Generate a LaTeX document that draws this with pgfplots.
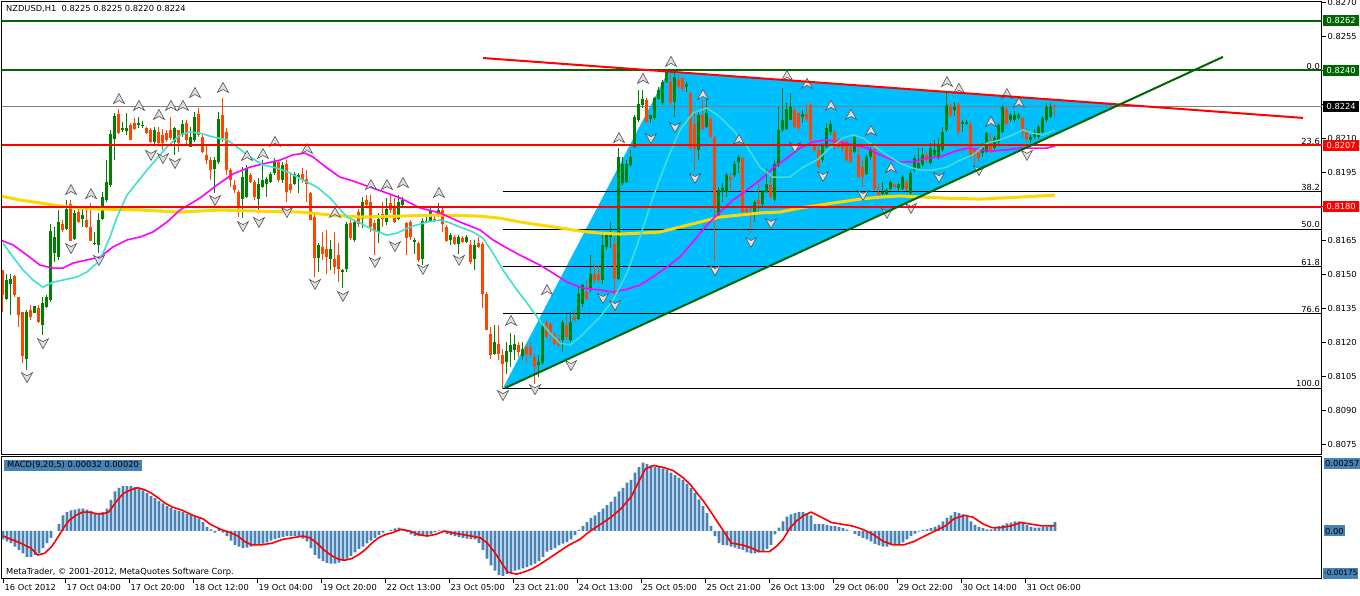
\documentclass[border=0pt]{standalone}
\usepackage{fontspec}
\setmainfont{DejaVu Sans}
\usepackage{pgfplots}
\usepackage{pgfplotstable}
\pgfplotsset{compat=1.18}

\definecolor{bull}{RGB}{0,128,0}
\definecolor{bear}{RGB}{255,69,0}
\definecolor{dkgreen}{RGB}{0,100,0}
\definecolor{skyblue}{RGB}{0,191,255}
\definecolor{turq}{RGB}{64,224,208}
\definecolor{mag}{RGB}{255,0,255}
\definecolor{gold}{RGB}{255,215,0}
\definecolor{steel}{RGB}{70,130,180}

\newcommand\mt{\fontsize{8.3}{10}\selectfont}

% fractal arrows
\pgfdeclareplotmark{fup}{%
  \pgfpathmoveto{\pgfqpoint{0pt}{5.5pt}}%
  \pgfpathlineto{\pgfqpoint{5.5pt}{-4.5pt}}%
  \pgfpathlineto{\pgfqpoint{0pt}{-1.5pt}}%
  \pgfpathlineto{\pgfqpoint{-5.5pt}{-4.5pt}}%
  \pgfpathclose\pgfusepathqfillstroke}
\pgfdeclareplotmark{fdn}{%
  \pgfpathmoveto{\pgfqpoint{0pt}{-5.5pt}}%
  \pgfpathlineto{\pgfqpoint{5.5pt}{4.5pt}}%
  \pgfpathlineto{\pgfqpoint{0pt}{1.5pt}}%
  \pgfpathlineto{\pgfqpoint{-5.5pt}{4.5pt}}%
  \pgfpathclose\pgfusepathqfillstroke}

% NZDUSD H1 bars: index, open, high, low, close
\pgfplotstableread{
i o h l c
0 0.81520 0.81520 0.81336 0.81410
1 0.81395 0.81505 0.81388 0.81476
2 0.81458 0.81505 0.81322 0.81480
3 0.81494 0.81498 0.81403 0.81410
4 0.81403 0.81403 0.81270 0.81322
5 0.81336 0.81336 0.81109 0.81141
6 0.81130 0.81344 0.81079 0.81336
7 0.81344 0.81366 0.81300 0.81314
8 0.81332 0.81364 0.81329 0.81361
9 0.81354 0.81366 0.81285 0.81292
10 0.81278 0.81403 0.81233 0.81376
11 0.81358 0.81410 0.81351 0.81403
12 0.81388 0.81723 0.81380 0.81692
13 0.81594 0.81711 0.81557 0.81667
14 0.81579 0.81785 0.81564 0.81733
15 0.81726 0.81741 0.81689 0.81697
16 0.81704 0.81829 0.81697 0.81792
17 0.81811 0.81829 0.81652 0.81652
18 0.81660 0.81785 0.81652 0.81773
19 0.81777 0.81792 0.81726 0.81733
20 0.81748 0.81800 0.81711 0.81763
21 0.81741 0.81792 0.81704 0.81711
22 0.81711 0.81814 0.81652 0.81652
23 0.81638 0.81689 0.81630 0.81641
24 0.81630 0.81770 0.81594 0.81741
25 0.81748 0.81866 0.81741 0.81844
26 0.81829 0.82005 0.81821 0.81910
27 0.81895 0.82138 0.81888 0.82123
28 0.82101 0.82211 0.82005 0.82199
29 0.82208 0.82229 0.82123 0.82126
30 0.82138 0.82174 0.82130 0.82145
31 0.82135 0.82211 0.82115 0.82148
32 0.82160 0.82167 0.82093 0.82096
33 0.82170 0.82189 0.82138 0.82145
34 0.82165 0.82196 0.82145 0.82168
35 0.82158 0.82179 0.82145 0.82161
36 0.82145 0.82152 0.82123 0.82126
37 0.82138 0.82145 0.82079 0.82086
38 0.82086 0.82152 0.82071 0.82138
39 0.82130 0.82152 0.82071 0.82079
40 0.82115 0.82140 0.82049 0.82079
41 0.82123 0.82138 0.82086 0.82093
42 0.82138 0.82196 0.82093 0.82105
43 0.82086 0.82152 0.82027 0.82145
44 0.82138 0.82138 0.82042 0.82079
45 0.82115 0.82182 0.82108 0.82167
46 0.82170 0.82182 0.82071 0.82093
47 0.82064 0.82152 0.82064 0.82108
48 0.82093 0.82218 0.82086 0.82196
49 0.82211 0.82233 0.82108 0.82115
50 0.82108 0.82115 0.82035 0.82042
51 0.82027 0.82071 0.81990 0.82005
52 0.82005 0.82020 0.81917 0.81961
53 0.81968 0.82020 0.81858 0.82005
54 0.81998 0.82218 0.81990 0.82189
55 0.82204 0.82279 0.82085 0.82102
56 0.82130 0.82145 0.81940 0.81961
57 0.81961 0.81968 0.81888 0.81917
58 0.81895 0.81917 0.81858 0.81873
59 0.81866 0.81873 0.81755 0.81799
60 0.81836 0.81976 0.81748 0.81932
61 0.81844 0.81983 0.81836 0.81968
62 0.81939 0.81946 0.81902 0.81910
63 0.81910 0.81917 0.81829 0.81844
64 0.81836 0.81924 0.81770 0.81902
65 0.81888 0.82005 0.81880 0.81917
66 0.81902 0.81932 0.81844 0.81924
67 0.81910 0.81954 0.81902 0.81946
68 0.81946 0.82013 0.81939 0.81998
69 0.81998 0.82005 0.81910 0.81917
70 0.81917 0.81998 0.81902 0.81983
71 0.81990 0.82005 0.81821 0.81866
72 0.81902 0.81946 0.81858 0.81873
73 0.81902 0.81954 0.81895 0.81946
74 0.81932 0.81946 0.81858 0.81939
75 0.81946 0.81968 0.81902 0.81917
76 0.81924 0.81961 0.81821 0.81902
77 0.81858 0.81866 0.81741 0.81741
78 0.81755 0.81770 0.81491 0.81572
79 0.81572 0.81638 0.81513 0.81630
80 0.81623 0.81689 0.81564 0.81594
81 0.81616 0.81697 0.81505 0.81579
82 0.81572 0.81652 0.81520 0.81616
83 0.81572 0.81689 0.81505 0.81535
84 0.81586 0.81638 0.81469 0.81527
85 0.81513 0.81527 0.81439 0.81520
86 0.81527 0.81733 0.81513 0.81726
87 0.81726 0.81741 0.81652 0.81660
88 0.81652 0.81741 0.81645 0.81733
89 0.81777 0.81790 0.81710 0.81726
90 0.81748 0.81843 0.81704 0.81821
91 0.81829 0.81851 0.81799 0.81807
92 0.81821 0.81851 0.81689 0.81711
93 0.81726 0.81741 0.81586 0.81696
94 0.81689 0.81770 0.81638 0.81748
95 0.81770 0.81821 0.81711 0.81748
96 0.81733 0.81836 0.81718 0.81792
97 0.81814 0.81851 0.81770 0.81785
98 0.81799 0.81836 0.81726 0.81733
99 0.81748 0.81851 0.81741 0.81821
100 0.81807 0.81843 0.81799 0.81829
101 0.81726 0.81733 0.81586 0.81660
102 0.81733 0.81741 0.81652 0.81667
103 0.81645 0.81660 0.81593 0.81652
104 0.81638 0.81645 0.81557 0.81564
105 0.81571 0.81748 0.81542 0.81740
106 0.81733 0.81755 0.81726 0.81740
107 0.81740 0.81792 0.81733 0.81785
108 0.81748 0.81763 0.81733 0.81740
109 0.81762 0.81814 0.81755 0.81785
110 0.81785 0.81792 0.81689 0.81726
111 0.81711 0.81718 0.81645 0.81652
112 0.81652 0.81682 0.81630 0.81674
113 0.81667 0.81674 0.81630 0.81638
114 0.81638 0.81674 0.81593 0.81667
115 0.81664 0.81670 0.81638 0.81645
116 0.81645 0.81674 0.81638 0.81667
117 0.81630 0.81652 0.81549 0.81557
118 0.81571 0.81652 0.81520 0.81630
119 0.81638 0.81667 0.81616 0.81623
120 0.81638 0.81645 0.81351 0.81417
121 0.81417 0.81424 0.81255 0.81255
122 0.81241 0.81270 0.81130 0.81145
123 0.81152 0.81277 0.81145 0.81204
124 0.81197 0.81277 0.81123 0.81152
125 0.81145 0.81174 0.80998 0.81108
126 0.81116 0.81204 0.81064 0.81167
127 0.81160 0.81241 0.81094 0.81189
128 0.81167 0.81233 0.81123 0.81197
129 0.81189 0.81204 0.81138 0.81160
130 0.81145 0.81204 0.81123 0.81174
131 0.81182 0.81189 0.81108 0.81152
132 0.81182 0.81204 0.81138 0.81145
133 0.81138 0.81152 0.81020 0.81094
134 0.81101 0.81145 0.81049 0.81116
135 0.81109 0.81290 0.81101 0.81270
136 0.81292 0.81299 0.81219 0.81226
137 0.81285 0.81292 0.81212 0.81241
138 0.81241 0.81248 0.81189 0.81197
139 0.81219 0.81233 0.81182 0.81190
140 0.81212 0.81300 0.81160 0.81292
141 0.81278 0.81322 0.81212 0.81226
142 0.81212 0.81336 0.81204 0.81292
143 0.81314 0.81344 0.81292 0.81300
144 0.81307 0.81447 0.81299 0.81417
145 0.81373 0.81461 0.81359 0.81454
146 0.81425 0.81476 0.81388 0.81395
147 0.81432 0.81586 0.81425 0.81505
148 0.81505 0.81549 0.81461 0.81476
149 0.81505 0.81542 0.81469 0.81476
150 0.81476 0.81689 0.81461 0.81630
151 0.81623 0.81689 0.81608 0.81674
152 0.81667 0.81733 0.81616 0.81690
153 0.81637 0.81667 0.81403 0.81483
154 0.81483 0.82057 0.81476 0.82020
155 0.81902 0.82020 0.81895 0.81990
156 0.81910 0.82005 0.81902 0.81990
157 0.81983 0.82049 0.81976 0.82020
158 0.82064 0.82203 0.82057 0.82196
159 0.82182 0.82314 0.82174 0.82255
160 0.82248 0.82314 0.82233 0.82277
161 0.82270 0.82277 0.82167 0.82174
162 0.82189 0.82203 0.82167 0.82203
163 0.82189 0.82284 0.82182 0.82277
164 0.82277 0.82329 0.82270 0.82314
165 0.82255 0.82358 0.82248 0.82351
166 0.82351 0.82402 0.82343 0.82395
167 0.82351 0.82388 0.82248 0.82255
168 0.82263 0.82388 0.82196 0.82373
169 0.82358 0.82380 0.82321 0.82329
170 0.82366 0.82373 0.82307 0.82321
171 0.82329 0.82351 0.82307 0.82343
172 0.82299 0.82307 0.82049 0.82057
173 0.82167 0.82226 0.81961 0.82057
174 0.82049 0.82226 0.82005 0.82203
175 0.82203 0.82270 0.82138 0.82145
176 0.82152 0.82284 0.82145 0.82211
177 0.82189 0.82196 0.82101 0.82108
178 0.82101 0.82115 0.81557 0.81800
179 0.81763 0.81888 0.81740 0.81873
180 0.81866 0.81903 0.81822 0.81880
181 0.81866 0.81950 0.81844 0.81939
182 0.81932 0.81946 0.81873 0.81917
183 0.81939 0.82000 0.81930 0.81991
184 0.81998 0.82027 0.81946 0.82020
185 0.82013 0.82020 0.81770 0.81778
186 0.81792 0.81800 0.81770 0.81778
187 0.81778 0.81800 0.81682 0.81763
188 0.81770 0.81829 0.81733 0.81822
189 0.81829 0.81903 0.81778 0.81814
190 0.81814 0.81873 0.81800 0.81866
191 0.81866 0.81969 0.81858 0.81900
192 0.81895 0.81939 0.81836 0.81844
193 0.81829 0.82005 0.81822 0.81991
194 0.81983 0.82241 0.81976 0.82138
195 0.82138 0.82321 0.82130 0.82182
196 0.82145 0.82255 0.82138 0.82233
197 0.82182 0.82299 0.82182 0.82241
198 0.82226 0.82233 0.82145 0.82152
199 0.82211 0.82211 0.82130 0.82145
200 0.82196 0.82226 0.82167 0.82211
201 0.82211 0.82255 0.82174 0.82189
202 0.82248 0.82255 0.82086 0.82094
203 0.82072 0.82094 0.82042 0.82050
204 0.82050 0.82064 0.81969 0.81976
205 0.82005 0.82080 0.81998 0.82072
206 0.82064 0.82167 0.82057 0.82145
207 0.82130 0.82182 0.82116 0.82167
208 0.82130 0.82138 0.82050 0.82064
209 0.82094 0.82101 0.82057 0.82064
210 0.82086 0.82100 0.82040 0.82057
211 0.82086 0.82094 0.81998 0.82005
212 0.82064 0.82072 0.81991 0.81998
213 0.82042 0.82116 0.82035 0.82108
214 0.82027 0.82070 0.81924 0.81932
215 0.81976 0.82005 0.81888 0.81932
216 0.81946 0.82027 0.81939 0.82020
217 0.82020 0.82064 0.82005 0.82057
218 0.82057 0.82064 0.81873 0.81880
219 0.81866 0.81903 0.81844 0.81851
220 0.81858 0.81910 0.81851 0.81866
221 0.81858 0.81880 0.81850 0.81873
222 0.81880 0.81917 0.81873 0.81910
223 0.81900 0.81903 0.81880 0.81888
224 0.81880 0.81903 0.81870 0.81900
225 0.81880 0.81939 0.81873 0.81932
226 0.81910 0.81917 0.81870 0.81880
227 0.81858 0.81961 0.81851 0.81946
228 0.81961 0.82027 0.81954 0.82013
229 0.81969 0.82057 0.81961 0.81991
230 0.81983 0.82057 0.81976 0.82035
231 0.82027 0.82042 0.81991 0.82005
232 0.81991 0.82079 0.81983 0.82057
233 0.82027 0.82094 0.82020 0.82049
234 0.82013 0.82101 0.82005 0.82072
235 0.82050 0.82152 0.82042 0.82130
236 0.82138 0.82299 0.82130 0.82248
237 0.82241 0.82255 0.82196 0.82204
238 0.82226 0.82260 0.82200 0.82241
239 0.82248 0.82263 0.82116 0.82130
240 0.82167 0.82182 0.82130 0.82174
241 0.82168 0.82180 0.82160 0.82174
242 0.82167 0.82174 0.82013 0.82020
243 0.82050 0.82060 0.81990 0.82027
244 0.82050 0.82057 0.81998 0.82013
245 0.82035 0.82080 0.82020 0.82072
246 0.82042 0.82130 0.82035 0.82123
247 0.82086 0.82123 0.82035 0.82042
248 0.82057 0.82110 0.82049 0.82101
249 0.82086 0.82170 0.82070 0.82160
250 0.82130 0.82248 0.82123 0.82241
251 0.82233 0.82241 0.82160 0.82167
252 0.82182 0.82211 0.82174 0.82204
253 0.82182 0.82220 0.82174 0.82204
254 0.82189 0.82211 0.82180 0.82204
255 0.82189 0.82196 0.82101 0.82130
256 0.82138 0.82145 0.82086 0.82101
257 0.82094 0.82116 0.82079 0.82108
258 0.82108 0.82140 0.82100 0.82130
259 0.82108 0.82160 0.82100 0.82152
260 0.82130 0.82200 0.82123 0.82189
261 0.82182 0.82255 0.82174 0.82241
262 0.82196 0.82255 0.82189 0.82241
263 0.82250 0.82250 0.82200 0.82240
}\candles

\pgfplotsset{nomark/.style={only marks, mark=*, mark size=0pt, mark options={draw=none, fill=none}}}

\begin{document}
\begin{tikzpicture}
\path[use as bounding box, fill=white] (0,0) rectangle (1360pt,596pt);

% ---------------- price panel ----------------
\begin{axis}[
  at={(2pt,141pt)}, anchor=south west, scale only axis,
  width=1320pt, height=453pt,
  xmin=-0.25, xmax=329.75, ymin=0.80705, ymax=0.82702,
  axis line style={black, line width=1pt},
  xtick=\empty,
  ytick={0.8075,0.8090,0.8105,0.8120,0.8135,0.8150,0.8165,0.8180,0.8195,0.8210,0.8225,0.8240,0.8255,0.8270},
  yticklabels={0.8075,0.8090,0.8105,0.8120,0.8135,0.8150,0.8165,0.8180,0.8195,0.8210,0.8225,0.8240,0.8255,0.8270},
  ytick pos=right, yticklabel pos=right,
  tick align=outside, major tick length=4pt,
  tick style={black, line width=0.8pt},
  yticklabel style={font=\mt, inner sep=1.5pt},
  clip mode=individual,
]
% triangle object
\addplot[fill=skyblue, draw=none, forget plot] coordinates {(125,0.81000) (166.25,0.82393) (279,0.82250) (125,0.81000)};

% fibo levels
\addplot[black, line width=0.8pt] coordinates {(125,0.81865) (331,0.81865)};
\addplot[black, line width=0.8pt] coordinates {(125,0.81700) (331,0.81700)};
\addplot[black, line width=0.8pt] coordinates {(125,0.81535) (331,0.81535)};
\addplot[black, line width=0.8pt] coordinates {(125,0.81328) (331,0.81328)};
\addplot[black, line width=0.8pt] coordinates {(125,0.81000) (331,0.81000)};

% bid line
\addplot[gray, line width=0.8pt] coordinates {(-1,0.8224) (331,0.8224)};

% candles: wicks
\addplot[nomark, restrict expr to domain={\thisrow{c}-\thisrow{o}}{0:1},
  error bars/.cd, y dir=both, y explicit, error mark=none,
  error bar style={draw=bull, line width=1pt}]
  table[x=i, y=c, y error plus expr=\thisrow{h}-\thisrow{c}, y error minus expr=\thisrow{c}-\thisrow{l}] {\candles};
\addplot[nomark, restrict expr to domain={\thisrow{c}-\thisrow{o}}{-1:-0.000001},
  error bars/.cd, y dir=both, y explicit, error mark=none,
  error bar style={draw=bear, line width=1pt}]
  table[x=i, y=c, y error plus expr=\thisrow{h}-\thisrow{c}, y error minus expr=\thisrow{c}-\thisrow{l}] {\candles};
% candles: bodies
\addplot[nomark, restrict expr to domain={\thisrow{c}-\thisrow{o}}{0:1},
  error bars/.cd, y dir=both, y explicit, error mark=none,
  error bar style={draw=bull, line width=3pt}]
  table[x=i, y expr=(\thisrow{o}+\thisrow{c})/2, y error expr={max(abs(\thisrow{c}-\thisrow{o})/2,0.000012)}] {\candles};
\addplot[nomark, restrict expr to domain={\thisrow{c}-\thisrow{o}}{-1:-0.000001},
  error bars/.cd, y dir=both, y explicit, error mark=none,
  error bar style={draw=bear, line width=3pt}]
  table[x=i, y expr=(\thisrow{o}+\thisrow{c})/2, y error expr={max(abs(\thisrow{c}-\thisrow{o})/2,0.000012)}] {\candles};

% moving averages
\addplot[gold, line width=3pt] coordinates {
(-0.75,0.81847) (4.25,0.81829) (9.25,0.81816) (14.25,0.81803) (19.25,0.81794) (24.25,0.81789)
(34.25,0.81785) (44.25,0.81776) (54.25,0.81785) (64.25,0.81780) (74.25,0.81776) (81.75,0.81763)
(89.25,0.81754) (99.25,0.81758) (109.25,0.81763) (119.25,0.81758) (124.25,0.81749) (129.25,0.81732)
(134.25,0.81719) (139.25,0.81706) (144.25,0.81692) (149.25,0.81683) (154.25,0.81679) (159.25,0.81683)
(164.25,0.81688) (169.25,0.81710) (174.25,0.81732) (179.25,0.81754) (184.25,0.81763) (189.25,0.81772)
(194.25,0.81776) (199.25,0.81794) (204.25,0.81807) (209.25,0.81820) (214.25,0.81833) (219.25,0.81842)
(224.25,0.81847) (234.25,0.81838) (244.25,0.81833) (254.25,0.81842) (263,0.81851)};
\addplot[mag, line width=1.6pt] coordinates {
(-0.75,0.81653) (2.5,0.81631) (6,0.81586) (9.25,0.81542) (12.5,0.81529) (15,0.81529) (17.5,0.81551)
(21,0.81565) (24.25,0.81578) (27.5,0.81622) (31,0.81653) (34.25,0.81666) (37.5,0.81688) (41,0.81732)
(44.25,0.81785) (49.25,0.81838) (53.5,0.81895) (57.5,0.81944) (61.75,0.81974) (66,0.81992)
(69.25,0.82005) (72.5,0.82028) (75.5,0.82036) (77.5,0.82019) (81,0.81970) (84.25,0.81930)
(87.5,0.81913) (91.75,0.81886) (96.75,0.81855) (99.25,0.81838) (104.25,0.81794) (109.25,0.81772)
(114.25,0.81732) (119.25,0.81697) (122.5,0.81653) (126,0.81617) (129.25,0.81586) (134.25,0.81542)
(137.5,0.81507) (141,0.81467) (145,0.81441) (149.25,0.81432) (152.5,0.81423) (156,0.81436)
(159.25,0.81454) (162.5,0.81490) (166,0.81534) (169.25,0.81578) (172.5,0.81644) (176,0.81719)
(179.25,0.81776) (182.5,0.81829) (186,0.81873) (189.25,0.81917) (192.5,0.81970) (196,0.82014)
(199.25,0.82058) (202.5,0.82085) (206,0.82094) (209.25,0.82085) (212.5,0.82072) (216,0.82058)
(219.25,0.82028) (222.5,0.82005) (224.25,0.81997) (227.5,0.81997) (231,0.82014) (234.25,0.82019)
(237.5,0.82041) (241,0.82058) (244.25,0.82050) (247.5,0.82045) (251,0.82050) (254.25,0.82058)
(257.5,0.82058) (261,0.82058) (263,0.82067)};
\addplot[turq, line width=1.6pt] coordinates {
(0,0.81639) (2.5,0.81578) (5,0.81520) (7.5,0.81476) (10,0.81445) (12.5,0.81467) (15,0.81476)
(18.5,0.81490) (21,0.81512) (23.5,0.81551) (25,0.81595) (26.75,0.81666) (28.5,0.81754) (31,0.81851)
(36,0.81961) (41,0.82063) (44.25,0.82116) (46.75,0.82129) (49.25,0.82124) (52.5,0.82107) (56,0.82094)
(58.5,0.82063) (61.75,0.82019) (65,0.81983) (68.5,0.81970) (71.75,0.81948) (75,0.81917) (78.5,0.81886)
(81.75,0.81838) (86,0.81754) (89.25,0.81728) (92.5,0.81697) (96,0.81674) (98.5,0.81683) (101.75,0.81710)
(106,0.81732) (109.25,0.81741) (111.75,0.81728) (114.25,0.81710) (117.5,0.81688) (120,0.81661)
(122.5,0.81595) (125,0.81520) (128.5,0.81432) (131,0.81375) (134.25,0.81296) (136.75,0.81243)
(139.25,0.81198) (141.75,0.81190) (144.25,0.81225) (146.75,0.81269) (149.25,0.81313) (152.5,0.81388)
(156,0.81507) (159.25,0.81666) (162.5,0.81842) (166,0.82005) (169.25,0.82138) (172.5,0.82213)
(176,0.82235) (179.25,0.82195) (182.5,0.82138) (186,0.82063) (189.25,0.81974) (192.5,0.81930)
(196.75,0.81930) (200,0.81974) (203.5,0.82005) (206.75,0.82058) (210,0.82102) (212.5,0.82116)
(215,0.82102) (218.5,0.82058) (221.75,0.82019) (224.25,0.81992) (226.75,0.81974) (229.25,0.81961)
(232.5,0.81961) (236,0.81974) (239.25,0.82005) (242.5,0.82028) (246,0.82080) (249.25,0.82094)
(252.5,0.82116) (255,0.82138) (257.5,0.82124) (260,0.82116) (263,0.82138)};

% fractals
\addplot[only marks, mark=fup, mark options={fill=gray!25, draw=gray!65!black, line width=0.6pt}] coordinates {
(29,0.82274) (34,0.82244) (39,0.82204) (42,0.82244) (45,0.82244) (48,0.82301) (55,0.82323) (61,0.82023)
(65,0.82032) (68,0.82085) (76,0.82054) (92,0.81895) (96,0.81895) (100,0.81904) (109,0.81860) (17,0.81873)
(22,0.81855) (83,0.81772) (127,0.81296) (136,0.81432) (154,0.82102) (160,0.82363) (167,0.82438)
(175,0.82292) (184,0.82094) (196,0.82376) (201,0.82341) (207,0.82244) (212,0.82204) (217,0.82133)
(222,0.81970) (236,0.82349) (239,0.82319) (247,0.82173) (251,0.82296) (254,0.82257)};
\addplot[only marks, mark=fdn, mark options={fill=gray!25, draw=gray!65!black, line width=0.6pt}] coordinates {
(6,0.81048) (10,0.81198) (17,0.81617) (24,0.81565) (37,0.82028) (40,0.82014) (43,0.81992) (53,0.81829)
(60,0.81714) (64,0.81732) (71,0.81776) (78,0.81459) (85,0.81406) (93,0.81556) (98,0.81626) (105,0.81525)
(114,0.81565) (125,0.80969) (133,0.80995) (142,0.81101) (150,0.81397) (153,0.81366) (162,0.82102)
(168,0.82151) (173,0.81926) (178,0.81520) (187,0.81644) (192,0.81728) (198,0.82063) (205,0.81935)
(215,0.81851) (221,0.81772) (227,0.81794) (234,0.81930) (244,0.81961) (256,0.82028)};

% horizontal lines
\addplot[dkgreen, line width=2pt] coordinates {(-1,0.8262) (331,0.8262)};
\addplot[dkgreen, line width=2pt] coordinates {(-1,0.8240) (331,0.8240)};
\addplot[red, line width=2pt] coordinates {(-1,0.8207) (331,0.8207)};
\addplot[red, line width=2pt] coordinates {(-1,0.8180) (331,0.8180)};

% trend lines
\addplot[red, line width=2pt] coordinates {(120,0.82455) (325,0.82191)};
\addplot[dkgreen, line width=2pt] coordinates {(125.5,0.81000) (305,0.82460)};

% fibo labels
\foreach \lv/\tx in {0.8240/0.0, 0.8207/23.6, 0.81865/38.2, 0.8170/50.0, 0.81535/61.8, 0.81328/76.6, 0.8100/100.0}{
  \edef\temp{\noexpand\node[font=\noexpand\mt, anchor=south east, inner sep=1pt] at (axis cs:329.5,\lv) {\tx};}
  \temp
}
\node[font=\mt, anchor=north west, inner sep=1pt] at (rel axis cs:0,1) [xshift=3pt, yshift=-2pt] {NZDUSD,H1\ \ 0.8225 0.8225 0.8220 0.8224};

\coordinate (q8262) at (axis cs:329.75,0.8262);
\coordinate (q8240) at (axis cs:329.75,0.8240);
\coordinate (q8224) at (axis cs:329.75,0.8224);
\coordinate (q8207) at (axis cs:329.75,0.8207);
\coordinate (q8180) at (axis cs:329.75,0.8180);
\end{axis}

% price tags
\tikzset{tag/.style={font=\mt, anchor=west, inner xsep=1pt, inner ysep=0pt, minimum height=11pt, minimum width=36pt, text=white}}
\node[tag, fill=dkgreen] at ([xshift=1pt]q8262) {0.8262};
\node[tag, fill=dkgreen] at ([xshift=1pt]q8240) {0.8240};
\node[tag, fill=black]   at ([xshift=1pt]q8224) {0.8224};
\node[tag, fill=red]     at ([xshift=1pt]q8207) {0.8207};
\node[tag, fill=red]     at ([xshift=1pt]q8180) {0.8180};

% ---------------- MACD panel ----------------
\begin{axis}[
  at={(2pt,17pt)}, anchor=south west, scale only axis,
  width=1320pt, height=122pt,
  xmin=-0.25, xmax=329.75, ymin=-170, ymax=262,
  axis line style={black, line width=1pt},
  ytick=\empty,
  xtick={0,15.5,31.5,47.5,63.5,79.5,95.5,111.5,127.5,143.5,159.5,175.5,191.5,207.5,223.5,239.5,255.5},
  xticklabels={16 Oct 2012,17 Oct 04:00,17 Oct 20:00,18 Oct 12:00,19 Oct 04:00,19 Oct 20:00,22 Oct 13:00,23 Oct 05:00,23 Oct 21:00,24 Oct 13:00,25 Oct 05:00,25 Oct 21:00,26 Oct 13:00,29 Oct 06:00,29 Oct 22:00,30 Oct 14:00,31 Oct 06:00},
  xtick pos=bottom, tick align=outside, major tick length=4pt,
  tick style={black, line width=0.8pt},
  xticklabel style={font=\mt, anchor=north west, inner sep=1pt, xshift=0.5pt},
  clip mode=individual,
]
% MACD main (units of 0.00001)
\addplot[ybar, bar width=2.6pt, fill=steel, draw=none] coordinates {
(0,-30) (1,-37) (2,-43) (3,-55) (4,-67) (5,-79) (6,-92) (7,-92) (8,-85) (9,-79) (10,-61) (11,-43) (12,-24) (13,0)
(14,24) (15,55) (16,67) (17,73) (18,76) (19,79) (20,79) (21,76) (22,71) (23,63) (24,61) (25,67) (26,79) (27,110)
(28,140) (29,153) (30,159) (31,159) (32,159) (33,155) (34,149) (35,144) (36,134) (37,124) (38,116) (39,107)
(40,98) (41,88) (42,82) (43,76) (44,71) (45,67) (46,61) (47,57) (48,51) (49,45) (50,31) (51,15) (52,6) (53,-6)
(54,10) (55,-6) (56,-18) (57,-34) (58,-49) (59,-55) (60,-61) (61,-59) (62,-55) (63,-51) (64,-49) (65,-45)
(66,-40) (67,-34) (68,-29) (69,-24) (70,-21) (71,-18) (72,-18) (73,-18) (74,-21) (75,-27) (76,-37) (77,-61)
(78,-85) (79,-98) (80,-107) (81,-113) (82,-116) (83,-116) (84,-112) (85,-106) (86,-98) (87,-88) (88,-76)
(89,-63) (90,-55) (91,-44) (92,-34) (93,-24) (94,-15) (95,-6) (96,0) (97,4) (98,9) (99,12) (100,7) (101,-4)
(102,-12) (103,-17) (104,-18) (105,-18) (106,-15) (107,-10) (108,-5) (109,2) (110,-4) (111,-10) (112,-15)
(113,-18) (114,-22) (115,-24) (116,-27) (117,-29) (118,-30) (119,-43) (120,-67) (121,-98) (122,-122)
(123,-140) (124,-156) (125,-159) (126,-153) (127,-146) (128,-140) (129,-137) (130,-132) (131,-128)
(132,-122) (133,-116) (134,-107) (135,-92) (136,-73) (137,-67) (138,-61) (139,-51) (140,-45) (141,-39)
(142,-30) (143,-15) (144,4) (145,18) (146,31) (147,46) (148,55) (149,67) (150,79) (151,92) (152,104)
(153,122) (154,140) (155,153) (156,171) (157,181) (158,207) (159,226) (160,242) (161,238) (162,232)
(163,227) (164,226) (165,222) (166,217) (167,207) (168,198) (169,189) (170,181) (171,168) (172,153)
(173,134) (174,112) (175,88) (176,63) (177,18) (178,-18) (179,-43) (180,-49) (181,-51) (182,-55) (183,-59)
(184,-63) (185,-67) (186,-76) (187,-79) (188,-79) (189,-76) (190,-71) (191,-63) (192,-49) (193,-12) (194,12)
(195,34) (196,51) (197,59) (198,63) (199,67) (200,67) (201,63) (202,55) (203,24) (204,24) (205,24) (206,22)
(207,18) (208,17) (209,15) (210,10) (211,5) (212,0) (213,-10) (214,-18) (215,-24) (216,-30) (217,-37)
(218,-46) (219,-51) (220,-55) (221,-55) (222,-51) (223,-49) (224,-46) (225,-40) (226,-30) (227,-18) (228,-9)
(229,-2) (230,4) (231,6) (232,10) (233,15) (234,22) (235,34) (236,46) (237,55) (238,67) (239,63) (240,59)
(241,49) (242,34) (243,22) (244,15) (245,10) (246,6) (247,6) (248,12) (249,17) (250,22) (251,27) (252,30)
(253,34) (254,34) (255,30) (256,22) (257,15) (258,12) (259,12) (260,15) (261,15) (262,22) (263,32)};
% signal
\addplot[red, line width=1.6pt] coordinates {
(0.1,-18) (4.4,-43) (7,-61) (8.7,-85) (10.4,-79) (12.2,-55) (13.9,-18) (15.2,12) (16.5,37) (18.2,55)
(19.9,67) (21.6,67) (23.4,61) (25.1,61) (26.4,67) (27.7,92) (29,116) (30.2,134) (32,146) (33.7,153)
(35.4,146) (37.1,134) (38.9,116) (40.6,98) (42.3,85) (44.9,73) (47.5,55) (50,43) (51.8,24) (54.4,6)
(56.9,-6) (58.7,-18) (60.4,-37) (62.1,-49) (64.7,-49) (67.3,-43) (69.8,-30) (72.4,-24) (75,-18) (76.7,-24)
(78.5,-43) (80.2,-67) (81.9,-85) (83.6,-98) (85.3,-104) (87.1,-98) (88.8,-85) (90.5,-67) (92.2,-43)
(93.9,-24) (95.7,-12) (97.4,-6) (99.5,6) (101.7,0) (103.8,-12) (106,-18) (108.2,-12) (110.3,0) (112,-6)
(114.6,-12) (117.2,-18) (119.3,-24) (121.1,-43) (122.8,-73) (124.5,-110) (126.2,-146) (128.4,-153)
(130.1,-146) (132.3,-134) (133.8,-122) (136.4,-98) (139,-73) (141.6,-49) (144.2,-30) (146.8,0) (149.4,24)
(152,49) (154.5,79) (157.1,122) (158.8,171) (160.6,220) (162.7,232) (164.9,226) (167.5,214) (170,189)
(171.8,165) (173.5,134) (175.2,104) (177,67) (178.7,30) (180.4,-6) (182.1,-43) (184.7,-49) (187.3,-61)
(189,-73) (191.6,-73) (193.3,-55) (195,-30) (196.8,12) (198.5,37) (200.2,55) (202,67) (203.7,55)
(205.4,43) (207.1,30) (209.7,24) (212.3,18) (214.9,6) (217.5,-12) (220.1,-37) (222.6,-49) (225.2,-49)
(227.8,-37) (230.4,-18) (233,0) (235.6,18) (237.7,43) (240.3,55) (242.5,49) (245.1,24) (247.2,12)
(249.4,12) (252,18) (254.5,30) (257.1,24) (259.7,18) (262.3,18) (263,20)};

\node[font=\mt, anchor=north west, fill=steel, inner xsep=3pt, inner ysep=1.5pt] at (rel axis cs:0,1) [xshift=2pt, yshift=-3pt] {MACD(9,20,5) 0.00032 0.00020};
\node[font=\mt, anchor=south west, inner sep=1pt] at (rel axis cs:0,0) [xshift=3pt, yshift=2pt] {MetaTrader, © 2001-2012, MetaQuotes Software Corp.};
\coordinate (mtop) at (rel axis cs:1,1);
\coordinate (mzero) at (axis cs:329.75,0);
\coordinate (mbot) at (rel axis cs:1,0);
\end{axis}

\tikzset{mtag/.style={font=\mt, fill=steel, inner xsep=1pt, inner ysep=0pt, minimum height=11pt}}
\node[mtag, anchor=north west] at ([xshift=2pt, yshift=-1pt]mtop) {0.00257};
\node[mtag, anchor=west] at ([xshift=2pt]mzero) {0.00};
\node[mtag, anchor=south west, font=\fontsize{7.4}{9}\selectfont] at ([xshift=1pt]mbot) {-0.00175};
\end{tikzpicture}
\end{document}
